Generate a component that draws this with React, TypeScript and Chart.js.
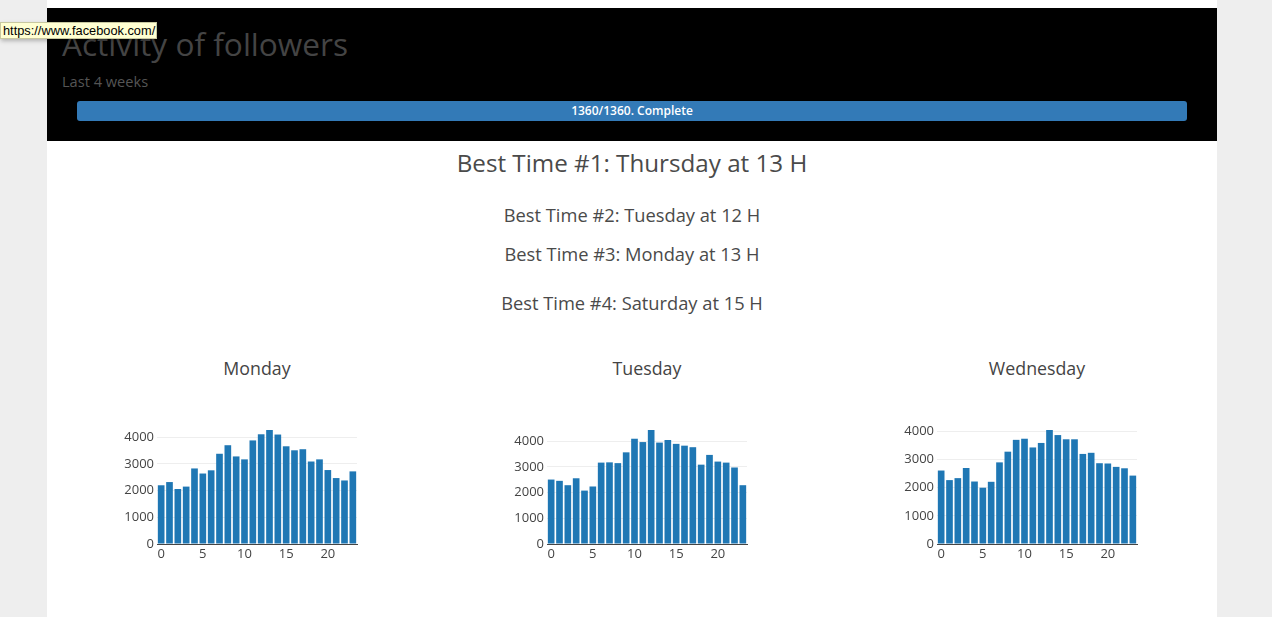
import React, { useEffect, useRef } from "react";
import { Chart, registerables } from "chart.js";

Chart.register(...registerables);

const hourLabels = ["0", "1", "2", "3", "4", "5", "6", "7", "8", "9", "10", "11", "12", "13", "14", "15", "16", "17", "18", "19", "20", "21", "22", "23"];
const xTickLabels = ["0", "5", "10", "15", "20"];
const yTickValues = [0, 1000, 2000, 3000, 4000];

const mondayValues = [2200, 2320, 2060, 2150, 2830, 2640, 2760, 3380, 3700, 3280, 3170, 3880, 4110, 4270, 4100, 3660, 3510, 3550, 3090, 3170, 2770, 2470, 2380, 2720];
const tuesdayValues = [2510, 2460, 2290, 2560, 2080, 2240, 3170, 3180, 3150, 3570, 4100, 3970, 4440, 3950, 4050, 3900, 3830, 3770, 3090, 3470, 3210, 3170, 2980, 2290];
const wednesdayValues = [2610, 2270, 2340, 2700, 2220, 2000, 2210, 2900, 3280, 3700, 3740, 3430, 3590, 4050, 3870, 3720, 3720, 3200, 3240, 2870, 2860, 2740, 2690, 2430];

const dayNames = ["Monday", "Tuesday", "Wednesday"];
const bestTimes = [
  "Best Time #1: Thursday at 13 H",
  "Best Time #2: Tuesday at 12 H",
  "Best Time #3: Monday at 13 H",
  "Best Time #4: Saturday at 15 H",
];

const headFont = "'Open Sans', 'DejaVu Sans', sans-serif";

function DayChart({ values, left, top }: { values: number[]; left: number; top: number }) {
  const ref = useRef<HTMLCanvasElement>(null);
  useEffect(() => {
    const chart = new Chart(ref.current as HTMLCanvasElement, {
      type: "bar",
      data: {
        labels: hourLabels,
        datasets: [
          {
            data: values,
            backgroundColor: "#1f77b4",
            borderWidth: 0,
            barPercentage: 0.8,
            categoryPercentage: 1,
          },
        ],
      },
      options: {
        animation: false,
        responsive: true,
        maintainAspectRatio: false,
        layout: { padding: { top: 20, right: 10, left: 0, bottom: 0 } },
        plugins: { legend: { display: false }, tooltip: { enabled: false } },
        scales: {
          x: {
            grid: { display: false, drawTicks: false },
            border: { display: true, color: "#444", width: 1 },
            ticks: {
              autoSkip: false,
              maxRotation: 0,
              padding: 2,
              color: "#444",
              font: { family: "'Open Sans'", size: 13 },
              callback: (_v: any, i: number) => (xTickLabels.includes(hourLabels[i]) ? hourLabels[i] : ""),
            },
            afterFit: (s: any) => {
              s.height = 20;
            },
          },
          y: {
            min: 0,
            max: Math.max(...values),
            grid: {
              drawTicks: false,
              color: (ctx: any) => (ctx.tick && ctx.tick.value === 0 ? "rgba(0,0,0,0)" : "#eeeeee"),
            },
            border: { display: false },
            ticks: {
              padding: 3,
              color: "#444",
              font: { family: "'Open Sans'", size: 13 },
              callback: (v: any) => String(v),
            },
            afterBuildTicks: (s: any) => {
              s.ticks = yTickValues.map((v) => ({ value: v }));
            },
            afterFit: (s: any) => {
              s.width = 60;
            },
          },
        },
      },
    } as any);
    return () => chart.destroy();
  }, [values]);
  return (
    <div style={{ position: "absolute", left, top, width: 270, height: 154 }}>
      <canvas ref={ref} />
    </div>
  );
}

export default function App() {
  const charts = [mondayValues, tuesdayValues, wednesdayValues];
  const plotLefts = [157, 547, 937];
  const titleCenters = [257, 647, 1037];
  const bestTops = [163, 215, 254, 303];
  const bestSizes = [24.2, 18.3, 18.3, 18.3];
  return (
    <div style={{ position: "absolute", left: 0, top: 0, width: 1272, height: 617, background: "#eeeeee", overflow: "hidden" }}>
      <div style={{ position: "absolute", left: 47, top: 0, width: 1170, height: 617, background: "#ffffff" }} />
      <div style={{ position: "absolute", left: 47, top: 8, width: 1170, height: 133, background: "#000000" }} />
      <div style={{ position: "absolute", left: 62, top: 23, fontFamily: headFont, fontSize: 31.6, color: "#444", lineHeight: "42px", whiteSpace: "nowrap" }}>
        Activity of followers
      </div>
      <div style={{ position: "absolute", left: 62, top: 72, fontFamily: headFont, fontSize: 14.6, color: "#555", lineHeight: "18px", whiteSpace: "nowrap" }}>
        Last 4 weeks
      </div>
      <div
        style={{
          position: "absolute",
          left: 77,
          top: 101,
          width: 1110,
          height: 20,
          background: "#337ab7",
          borderRadius: 3,
          color: "#fff",
          fontFamily: headFont,
          fontSize: 12,
          fontWeight: 600,
          lineHeight: "20px",
          textAlign: "center",
        }}
      >
        1360/1360. Complete
      </div>
      {bestTimes.map((t, i) => (
        <div
          key={t}
          style={{
            position: "absolute",
            left: 47,
            width: 1170,
            top: bestTops[i] - 15,
            height: 30,
            lineHeight: "30px",
            textAlign: "center",
            fontFamily: headFont,
            fontSize: bestSizes[i],
            color: "#4a4a4a",
            whiteSpace: "nowrap",
          }}
        >
          {t}
        </div>
      ))}
      {dayNames.map((d, i) => (
        <div
          key={d}
          style={{
            position: "absolute",
            left: titleCenters[i] - 100,
            width: 200,
            top: 357,
            height: 22,
            lineHeight: "22px",
            textAlign: "center",
            fontFamily: "'Open Sans'",
            fontSize: 17.8,
            color: "#444",
          }}
        >
          {d}
        </div>
      ))}
      {charts.map((v, i) => (
        <DayChart key={i} values={v} left={plotLefts[i] - 60} top={410} />
      ))}
      <div
        style={{
          position: "absolute",
          left: 0,
          top: 22,
          width: 157,
          height: 17,
          background: "#ffffd2",
          border: "1px solid #c8c8a0",
          boxShadow: "1px 2px 4px rgba(0,0,0,0.25)",
          fontFamily: "'Liberation Sans', Arial, sans-serif",
          fontSize: 12.8,
          lineHeight: "15px",
          color: "#000",
          paddingLeft: 2,
          boxSizing: "border-box",
          whiteSpace: "nowrap",
        }}
      >
        https://www.facebook.com/
      </div>
    </div>
  );
}
